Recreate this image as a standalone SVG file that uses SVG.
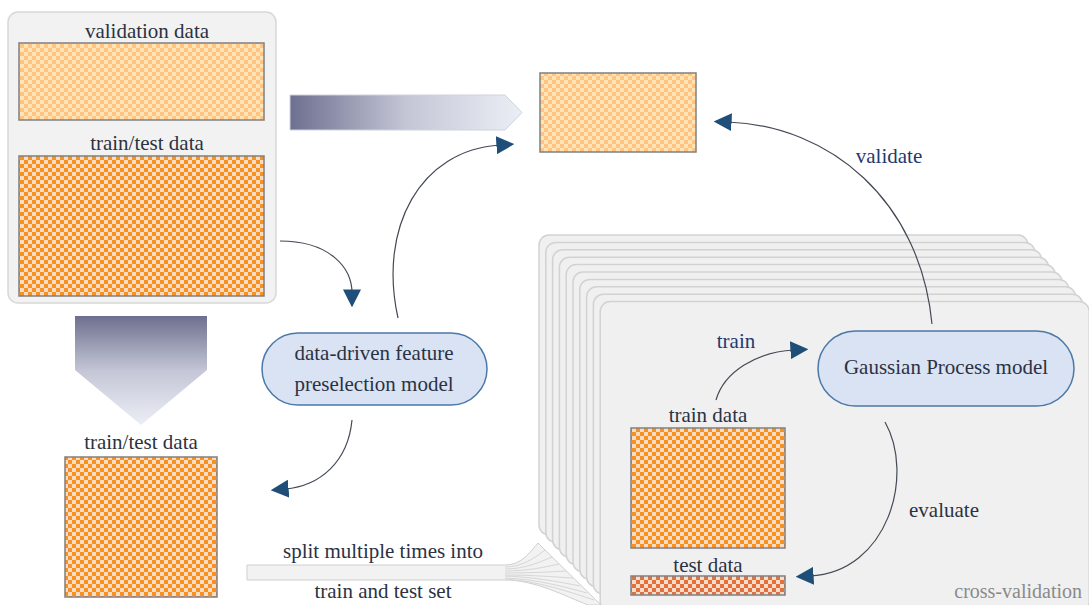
<svg xmlns="http://www.w3.org/2000/svg" width="1089" height="605" viewBox="0 0 1089 605" font-family="'Liberation Serif', 'DejaVu Serif', serif">
  <defs>
    <pattern id="chkLight" width="8" height="8" patternUnits="userSpaceOnUse">
      <rect width="8" height="8" fill="#ffe4b8"/>
      <rect width="4" height="4" fill="#ffc382"/>
      <rect x="4" y="4" width="4" height="4" fill="#ffc382"/>
    </pattern>
    <pattern id="chkDark" width="8" height="8" patternUnits="userSpaceOnUse">
      <rect width="8" height="8" fill="#fddcc6"/>
      <rect width="4" height="4" fill="#f7911f"/>
      <rect x="4" y="4" width="4" height="4" fill="#f7911f"/>
    </pattern>
    <pattern id="chkRed" width="8" height="8" patternUnits="userSpaceOnUse">
      <rect width="8" height="8" fill="#fbdcc8"/>
      <rect width="4" height="4" fill="#e0703c"/>
      <rect x="4" y="4" width="4" height="4" fill="#e0703c"/>
    </pattern>
    <linearGradient id="gradRight" x1="0" y1="0" x2="1" y2="0">
      <stop offset="0" stop-color="#6d6f8f"/>
      <stop offset="0.5" stop-color="#c4c6d6"/>
      <stop offset="1" stop-color="#eceef6"/>
    </linearGradient>
    <linearGradient id="gradDown" x1="0" y1="0" x2="0" y2="1">
      <stop offset="0" stop-color="#6d6f8f"/>
      <stop offset="0.5" stop-color="#c4c6d6"/>
      <stop offset="1" stop-color="#eceef6"/>
    </linearGradient>
    <marker id="arrow" viewBox="0 0 10 10" refX="2" refY="5" markerWidth="18" markerHeight="18" markerUnits="userSpaceOnUse" orient="auto">
      <path d="M0,0 L10,5 L0,10 Z" fill="#1f4e79"/>
    </marker>
  </defs>
  <style>
    text { font-family: "Liberation Serif", "DejaVu Serif", serif; fill: #2b3243; }
    .lbl { font-size: 21px; text-anchor: middle; }
    .edge { font-size: 21px; fill: #1f3a6e; text-anchor: middle; }
    .cv { font-size: 20px; fill: #8a8a8a; text-anchor: end; }
    .data { stroke: #808080; stroke-width: 1.5; }
    .card { fill: #f0f0f0; stroke: #d2d2d2; stroke-width: 1.5; }
    .pill { fill: #dae3f3; stroke: #4a78a8; stroke-width: 1.5; }
    .conn { fill: none; stroke: #444a55; stroke-width: 1.2; marker-end: url(#arrow); }
    .fan { fill: none; stroke: #d6d6d6; stroke-width: 1; }
  </style>

  <!-- source data panel -->
  <g id="source-data">
    <rect x="8" y="12" width="268" height="291" rx="10" fill="#f2f2f2" stroke="#d8d8d8" stroke-width="1.5"/>
    <text class="lbl" x="147" y="38">validation data</text>
    <rect class="data" x="19" y="43" width="245" height="77" fill="url(#chkLight)"/>
    <text class="lbl" x="147" y="150">train/test data</text>
    <rect class="data" x="19" y="156" width="245" height="140" fill="url(#chkDark)"/>
  </g>

  <!-- wide arrow carrying the validation set -->
  <g id="validation-flow">
    <path d="M290,95 L505,95 L522,112.5 L505,130 L290,130 Z" fill="url(#gradRight)" stroke="#d0d2dc" stroke-width="1"/>
  </g>

  <!-- wide arrow carrying the train/test set -->
  <g id="traintest-flow">
    <path d="M75,316 L207,316 L207,370 L141,425 L75,370 Z" fill="url(#gradDown)"/>
  </g>

  <!-- validation set copy -->
  <g id="validation-set">
    <rect class="data" x="540" y="73" width="156" height="79" fill="url(#chkLight)"/>
  </g>

  <!-- reduced train/test set -->
  <g id="traintest-set">
    <text class="lbl" x="141" y="449">train/test data</text>
    <rect class="data" x="65" y="457" width="152" height="140" fill="url(#chkDark)"/>
  </g>

  <!-- feature preselection -->
  <g id="preselection-model">
    <rect class="pill" x="262" y="333" width="225" height="72" rx="36"/>
    <text class="lbl" x="374" y="360">data-driven feature</text>
    <text class="lbl" x="374" y="391">preselection model</text>
  </g>

  <!-- stack of cross-validation folds -->
  <g id="cross-validation">
    <rect class="card" x="539" y="235" width="489" height="300" rx="10"/>
    <rect class="card" x="545.8" y="242.4" width="489" height="300" rx="10"/>
    <rect class="card" x="552.6" y="249.8" width="489" height="300" rx="10"/>
    <rect class="card" x="559.4" y="257.2" width="489" height="300" rx="10"/>
    <rect class="card" x="566.2" y="264.6" width="489" height="300" rx="10"/>
    <rect class="card" x="573" y="272" width="489" height="300" rx="10"/>
    <rect class="card" x="579.8" y="279.4" width="489" height="300" rx="10"/>
    <rect class="card" x="586.6" y="286.8" width="489" height="300" rx="10"/>
    <rect class="card" x="593.4" y="294.2" width="489" height="300" rx="10"/>
    <rect class="card" x="600.2" y="301.6" width="489" height="310" rx="10"/>
    <text class="cv" x="1082" y="598">cross-validation</text>
  </g>

  <!-- split band fanning into the folds -->
  <g id="split-band">
    <path d="M247,565 L505,565 C522,565 530,552 538,543 L601,605 L588,605 C565,596 535,580 505,580 L247,580 Z" fill="#f2f2f2" stroke="#cfcfcf" stroke-width="1"/>
    <path class="fan" d="M505,567 C522,567 535,558 545,550"/>
    <path class="fan" d="M505,569 C525,569 540,562 552,557"/>
    <path class="fan" d="M505,571 C528,571 545,567 559,564"/>
    <path class="fan" d="M505,573 C530,573 550,572 566,571"/>
    <path class="fan" d="M505,575 C532,575 555,577 573,578"/>
    <path class="fan" d="M505,576 C534,577 560,582 580,586"/>
    <path class="fan" d="M505,578 C536,579 565,587 587,593"/>
    <path class="fan" d="M505,579 C538,581 570,592 594,600"/>
    <text class="lbl" x="383" y="558">split multiple times into</text>
    <text class="lbl" x="383" y="598">train and test set</text>
  </g>

  <!-- fold contents -->
  <g id="train-data">
    <text class="lbl" x="708" y="422">train data</text>
    <rect class="data" x="631" y="428" width="154" height="120" fill="url(#chkDark)"/>
  </g>
  <g id="test-data">
    <text class="lbl" x="708" y="572">test data</text>
    <rect class="data" x="631" y="576" width="154" height="19" fill="url(#chkRed)"/>
  </g>

  <g id="gaussian-process-model">
    <rect class="pill" x="818" y="331" width="256" height="75" rx="37.5"/>
    <text class="lbl" x="946" y="374">Gaussian Process model</text>
  </g>

  <!-- connectors -->
  <g id="connectors">
    <path class="conn" d="M280,241 C330,241 352,268 352,293"/>
    <path class="conn" d="M398,318 C378,228 420,150 500,145"/>
    <path class="conn" d="M352,420 C348,462 320,486 285,489"/>
    <path class="conn" d="M932,324 C920,200 830,126 728,122"/>
    <path class="conn" d="M716,400 C724,372 756,352 794,350"/>
    <path class="conn" d="M885,422 C915,475 888,572 810,576"/>
    <text class="edge" x="889" y="163">validate</text>
    <text class="edge" x="736" y="348">train</text>
    <text class="lbl" x="944" y="517">evaluate</text>
  </g>
</svg>
